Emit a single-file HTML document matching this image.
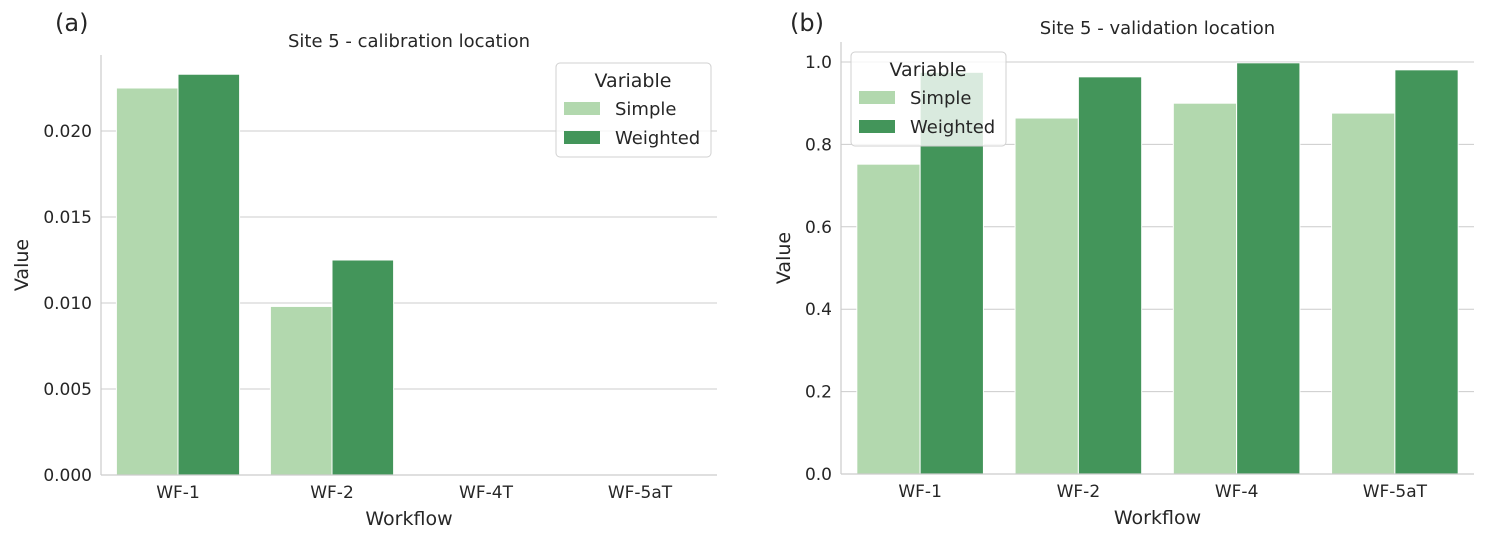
<!DOCTYPE html>
<html><head><meta charset="utf-8"><style>
body{margin:0;background:#fff;}
svg text{font-family:"DejaVu Sans","Liberation Sans",sans-serif;fill:#262626;}
</style></head><body>
<svg id="c" width="1489" height="539" xmlns="http://www.w3.org/2000/svg"></svg>
<script>
const catsA=["WF-1","WF-2","WF-4T","WF-5aT"];
const simpleA=[0.0225,0.0098,0,0];
const weightedA=[0.0233,0.0125,0,0];
const ticksA=[0,0.005,0.010,0.015,0.020];
const tickLabelsA=["0.000","0.005","0.010","0.015","0.020"];
const catsB=["WF-1","WF-2","WF-4","WF-5aT"];
const simpleB=[0.752,0.864,0.900,0.876];
const weightedB=[0.975,0.964,0.998,0.981];
const ticksB=[0,0.2,0.4,0.6,0.8,1.0];
const tickLabelsB=["0.0","0.2","0.4","0.6","0.8","1.0"];
const NS="http://www.w3.org/2000/svg";
const svg=document.getElementById('c');
function mk(t,a,p){const e=document.createElementNS(NS,t);for(const k in a)e.setAttribute(k,a[k]);(p||svg).appendChild(e);return e;}
const C1="#b2d8ae",C2="#43955a";
function panel(o){
  const g=mk('g',{});
  
  
  const y=v=>o.y0-(v-0)/(o.ymax)*(o.y0-o.y1);
  const bw=(o.x1-o.x0)/o.cats.length;
  const x=i=>o.x0+bw*(i+0.5);
  o.ticks.forEach((t,i)=>{
    const l=mk('line',{x1:o.x0,x2:o.x1,y1:y(t),y2:y(t),stroke:"#cccccc","stroke-width":1},g);
    
    
    const tx=mk('text',{x:o.x0-9,y:y(t)+6,"text-anchor":"end","font-size":17},g);
    tx.textContent=o.tickLabels[i];
    
    
  });
  const w=bw*0.4;
  o.cats.forEach((c,i)=>{
    const r1=mk('rect',{x:x(i)-w,y:y(o.s[i]),width:w,height:y(0)-y(o.s[i]),fill:C1,stroke:"#fff","stroke-width":1},g);
    
    
    const r2=mk('rect',{x:x(i),y:y(o.w[i]),width:w,height:y(0)-y(o.w[i]),fill:C2,stroke:"#fff","stroke-width":1},g);
    
    
    const tx=mk('text',{x:x(i),y:o.y0+23,"text-anchor":"middle","font-size":17},g);
    tx.textContent=c;
    
    
  });
  mk('line',{x1:o.x0,x2:o.x0,y1:o.top,y2:o.y0,stroke:"#cccccc","stroke-width":1.2},g);
  mk('line',{x1:o.x0,x2:o.x1,y1:o.y0,y2:o.y0,stroke:"#cccccc","stroke-width":1.2},g);
  const t=mk('text',{x:(o.x0+o.x1)/2,y:o.titleY,"text-anchor":"middle","font-size":18},g);t.textContent=o.title;
  
  const xl=mk('text',{x:(o.x0+o.x1)/2,y:o.y0+50,"text-anchor":"middle","font-size":19},g);xl.textContent="Workflow";
  
  const yl=mk('text',{x:0,y:0,"text-anchor":"middle","font-size":19,transform:`translate(${o.ylX},${(o.top+o.y0)/2}) rotate(-90)`},g);yl.textContent="Value";
  
  const pl=mk('text',{x:o.labX,y:o.labY,"font-size":24,"font-family":"Liberation Sans"},g);pl.textContent=o.label;
  
  const L=mk('g',{},g);
  const lx=o.leg[0],ly=o.leg[1];
  mk('rect',{x:lx,y:ly,width:155,height:94,rx:4,fill:"rgba(255,255,255,0.8)",stroke:"#d0d0d0"},L);
  const lt=mk('text',{x:lx+77,y:ly+24,"text-anchor":"middle","font-size":19},L);lt.textContent="Variable";
  [["Simple",C1],["Weighted",C2]].forEach((s,k)=>{
    mk('rect',{x:lx+8,y:ly+39+k*29,width:36,height:13,fill:s[1]},L);
    const e=mk('text',{x:lx+59,y:ly+52+k*29,"font-size":18},L);e.textContent=s[0];
    
  });
}
panel({id:'a',x0:101,x1:717,y0:475,y1:131,ymax:0.020,top:55,cats:catsA,s:simpleA,w:weightedA,ticks:ticksA,tickLabels:tickLabelsA,title:"Site 5 - calibration location",titleY:47,ylX:28,label:"(a)",labX:55,labY:31,leg:[556,63]});
panel({id:'b',x0:841,x1:1474,y0:474,y1:62,ymax:1.0,top:42,cats:catsB,s:simpleB,w:weightedB,ticks:ticksB,tickLabels:tickLabelsB,title:"Site 5 - validation location",titleY:34,ylX:790,label:"(b)",labX:790,labY:31,leg:[851,52]});
</script>
</body></html>
